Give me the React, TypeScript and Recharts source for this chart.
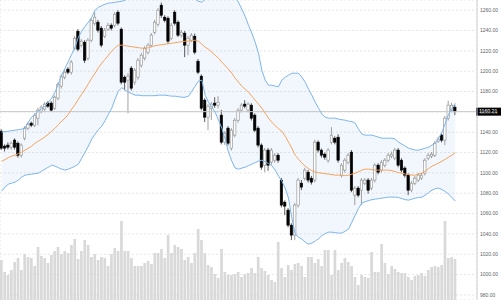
import React from "react";
import {
  ComposedChart,
  Bar,
  Line,
  Area,
  XAxis,
  YAxis,
  CartesianGrid,
  ReferenceLine,
} from "recharts";

// OHLC, one entry per trading day
const OPENS = [
  1141.0, 1126.3, 1127.3, 1125.3, 1132.2, 1129.2, 1117.4, 1134.1, 1144.0, 1148.9,
  1146.9, 1153.8, 1160.7, 1162.7, 1168.6, 1168.6, 1163.6, 1173.5, 1185.3, 1194.1,
  1202.0, 1199.0, 1222.6, 1239.3, 1225.6, 1228.5, 1212.8, 1230.5, 1247.2, 1248.2,
  1242.3, 1234.4, 1241.3, 1245.2, 1245.2, 1258.0, 1241.3, 1194.1, 1191.2, 1203.0,
  1189.2, 1194.1, 1205.9, 1212.8, 1218.7, 1225.6, 1238.3, 1246.2, 1264.9, 1253.1,
  1252.1, 1232.4, 1258.0, 1248.2, 1235.4, 1237.4, 1225.6, 1230.5, 1234.4, 1209.8,
  1195.1, 1171.5, 1154.8, 1163.6, 1168.6, 1166.6, 1156.8, 1130.2, 1144.0, 1124.3,
  1137.1, 1151.8, 1161.7, 1167.6, 1161.7, 1166.6, 1156.8, 1144.0, 1127.3, 1107.6,
  1122.4, 1110.6, 1112.5, 1117.4, 1092.9, 1071.2, 1063.4, 1048.6, 1038.8, 1068.3,
  1089.9, 1094.8, 1100.7, 1094.8, 1092.9, 1130.2, 1122.4, 1118.4, 1112.5, 1130.2,
  1134.1, 1135.1, 1097.8, 1102.7, 1110.6, 1120.4, 1078.1, 1085.0, 1083.0, 1089.9,
  1092.9, 1085.0, 1092.9, 1107.6, 1102.7, 1107.6, 1112.5, 1116.4, 1114.5, 1122.4,
  1112.5, 1104.7, 1097.8, 1083.0, 1089.9, 1092.9, 1094.8, 1099.7, 1114.5, 1116.4,
  1117.4, 1131.2, 1137.1, 1132.2, 1153.8, 1161.7, 1164.6,
];
const HIGHS = [
  1143.0, 1128.0, 1130.0, 1131.0, 1134.0, 1131.0, 1129.0, 1146.0, 1150.0, 1150.5,
  1158.5, 1164.0, 1166.5, 1169.5, 1170.5, 1170.5, 1176.0, 1189.0, 1197.0, 1201.0,
  1204.0, 1211.0, 1234.5, 1241.5, 1231.5, 1230.5, 1232.5, 1252.0, 1258.0, 1250.5,
  1244.5, 1242.5, 1247.5, 1247.0, 1258.0, 1260.0, 1243.0, 1196.0, 1198.0, 1205.0,
  1203.0, 1213.0, 1218.0, 1224.5, 1227.5, 1237.5, 1250.5, 1262.0, 1267.5, 1255.0,
  1254.0, 1247.5, 1260.0, 1250.0, 1240.5, 1239.5, 1234.5, 1237.5, 1237.0, 1212.0,
  1197.0, 1173.5, 1167.5, 1169.5, 1174.4, 1175.5, 1162.0, 1141.0, 1146.0, 1144.0,
  1154.0, 1163.5, 1168.5, 1171.5, 1169.5, 1168.5, 1158.5, 1146.0, 1129.0, 1124.5,
  1124.5, 1124.5, 1119.5, 1119.5, 1095.0, 1073.0, 1065.5, 1050.5, 1070.5, 1095.0,
  1093.0, 1105.0, 1103.0, 1097.0, 1132.5, 1132.0, 1124.0, 1120.0, 1124.5, 1145.0,
  1136.0, 1138.0, 1109.5, 1114.5, 1119.5, 1122.5, 1087.0, 1087.0, 1095.0, 1095.0,
  1095.0, 1095.0, 1109.5, 1109.5, 1112.5, 1114.5, 1119.5, 1121.0, 1124.5, 1124.5,
  1114.5, 1106.5, 1099.5, 1092.0, 1097.0, 1100.0, 1100.0, 1114.5, 1119.5, 1120.5,
  1131.5, 1135.5, 1139.0, 1156.0, 1171.0, 1169.0, 1167.0,
];
const LOWS = [
  1122.4, 1121.0, 1123.0, 1123.0, 1123.0, 1115.0, 1115.0, 1132.0, 1142.0, 1145.0,
  1145.0, 1146.9, 1158.5, 1161.0, 1164.0, 1160.0, 1162.0, 1171.5, 1183.0, 1192.0,
  1197.0, 1196.5, 1220.5, 1219.5, 1223.5, 1208.0, 1210.5, 1228.5, 1245.0, 1238.0,
  1223.5, 1232.5, 1239.5, 1240.0, 1243.0, 1245.0, 1187.0, 1181.3, 1158.7, 1181.0,
  1186.5, 1191.5, 1203.5, 1210.5, 1216.5, 1223.5, 1236.0, 1244.0, 1252.5, 1248.0,
  1227.0, 1230.5, 1245.0, 1233.5, 1233.0, 1213.8, 1215.7, 1228.5, 1216.5, 1197.0,
  1161.5, 1150.0, 1142.0, 1152.0, 1164.0, 1163.5, 1128.0, 1127.5, 1127.0, 1122.0,
  1135.0, 1149.5, 1159.5, 1163.5, 1159.5, 1151.5, 1140.0, 1125.0, 1103.0, 1100.7,
  1102.0, 1108.0, 1110.0, 1110.0, 1066.0, 1058.5, 1046.5, 1033.9, 1033.9, 1066.0,
  1083.0, 1092.5, 1090.5, 1088.5, 1090.5, 1120.0, 1115.0, 1113.0, 1110.0, 1128.0,
  1128.0, 1110.0, 1095.5, 1100.5, 1108.5, 1081.0, 1068.3, 1076.0, 1068.3, 1088.0,
  1079.5, 1083.0, 1090.5, 1098.5, 1100.5, 1105.5, 1110.5, 1114.5, 1112.5, 1105.5,
  1100.5, 1095.5, 1078.1, 1081.0, 1088.0, 1091.0, 1093.0, 1097.5, 1112.5, 1114.5,
  1115.5, 1129.5, 1130.0, 1127.3, 1151.5, 1159.5, 1156.8,
];
const CLOSES = [
  1124.3, 1124.3, 1125.3, 1129.2, 1125.3, 1117.4, 1127.3, 1144.0, 1147.9, 1146.9,
  1156.8, 1161.7, 1164.6, 1167.6, 1165.6, 1161.7, 1174.5, 1187.2, 1195.1, 1199.0,
  1199.0, 1208.9, 1232.4, 1221.6, 1229.5, 1210.8, 1230.5, 1250.1, 1253.1, 1240.3,
  1225.6, 1240.3, 1245.2, 1242.3, 1256.0, 1247.2, 1189.2, 1189.2, 1195.1, 1183.3,
  1201.0, 1210.8, 1215.7, 1222.6, 1225.6, 1235.4, 1248.2, 1260.0, 1255.0, 1250.1,
  1229.5, 1245.2, 1247.2, 1235.4, 1238.3, 1225.6, 1232.4, 1235.4, 1218.7, 1199.0,
  1163.6, 1154.8, 1165.6, 1167.6, 1166.6, 1169.5, 1130.2, 1139.0, 1129.2, 1142.0,
  1151.8, 1161.7, 1166.6, 1165.6, 1167.6, 1153.8, 1142.0, 1127.3, 1105.6, 1122.4,
  1107.6, 1122.4, 1117.4, 1112.5, 1068.3, 1067.3, 1048.6, 1038.8, 1068.3, 1092.9,
  1086.0, 1102.7, 1092.9, 1090.9, 1130.2, 1122.4, 1117.4, 1115.5, 1122.4, 1137.1,
  1130.2, 1112.5, 1107.6, 1112.5, 1117.4, 1083.0, 1085.0, 1078.1, 1092.9, 1092.9,
  1083.0, 1092.9, 1107.6, 1100.7, 1110.6, 1112.5, 1117.4, 1118.4, 1122.4, 1107.6,
  1102.7, 1097.8, 1083.0, 1089.9, 1094.8, 1097.8, 1097.8, 1112.5, 1117.4, 1118.4,
  1129.2, 1133.2, 1132.2, 1153.8, 1166.6, 1166.6, 1160.21,
];

// volume in thousands
const VOLUMES = [
  400, 280, 250, 300, 380, 420, 300, 460, 430, 420,
  340, 530, 440, 420, 370, 450, 490, 530, 460, 490,
  470, 550, 610, 410, 490, 600, 550, 430, 460, 400,
  430, 420, 340, 460, 520, 490, 790, 490, 490, 420,
  340, 340, 340, 370, 390, 360, 470, 470, 510, 420,
  650, 470, 550, 530, 510, 400, 430, 370, 470, 710,
  600, 470, 350, 330, 260, 220, 510, 280, 250, 250,
  260, 280, 230, 260, 270, 320, 270, 430, 320, 290,
  250, 200, 180, 580, 320, 230, 350, 300, 360, 370,
  340, 230, 430, 430, 370, 410, 340, 500, 500, 250,
  500, 300, 370, 420, 380, 340, 230, 150, 250, 230,
  220, 480, 280, 280, 560, 370, 260, 340, 310, 280,
  270, 270, 230, 200, 240, 250, 270, 240, 300, 330,
  340, 330, 350, 790, 420, 430, 410,
];

// Bollinger bands (20, 2)
const BB_UPPER = [
  1140.0, 1140.5, 1141.0, 1141.5, 1142.0, 1142.5, 1143.0, 1144.0, 1149.9, 1154.8,
  1157.7, 1160.7, 1163.1, 1165.6, 1169.5, 1173.5, 1179.4, 1187.2, 1196.1, 1203.0,
  1209.8, 1216.7, 1223.6, 1233.4, 1239.3, 1244.2, 1248.2, 1253.1, 1260.0, 1262.9,
  1264.4, 1265.9, 1266.9, 1267.3, 1267.8, 1268.3, 1268.8, 1269.8, 1271.8, 1273.7,
  1275.0, 1276.0, 1277.0, 1278.0, 1279.0, 1280.0, 1281.0, 1283.0, 1285.0, 1285.0,
  1284.0, 1283.0, 1282.0, 1281.0, 1279.0, 1277.0, 1275.0, 1272.0, 1270.8, 1268.8,
  1267.8, 1270.8, 1273.0, 1275.0, 1277.0, 1278.0, 1279.0, 1279.0, 1278.0, 1276.0,
  1273.0, 1267.8, 1261.0, 1254.0, 1245.2, 1237.4, 1228.5, 1217.7, 1201.0, 1191.2,
  1186.2, 1186.2, 1185.3, 1184.8, 1191.2, 1194.1, 1196.1, 1198.0, 1198.0, 1198.0,
  1194.1, 1189.2, 1182.3, 1176.4, 1169.5, 1163.6, 1157.7, 1154.8, 1153.8, 1153.8,
  1153.8, 1152.8, 1152.3, 1151.8, 1150.9, 1150.4, 1148.9, 1143.0, 1138.1, 1137.1,
  1137.1, 1137.1, 1136.1, 1135.1, 1134.1, 1134.1, 1134.1, 1134.1, 1133.2, 1130.2,
  1128.2, 1126.3, 1124.3, 1123.3, 1122.4, 1122.4, 1123.3, 1124.3, 1125.3, 1127.3,
  1129.2, 1134.1, 1140.0, 1148.9, 1157.7, 1163.6, 1168.5,
];
const BB_MIDDLE = [
  1111.5, 1113.0, 1115.0, 1116.5, 1117.4, 1118.9, 1120.4, 1122.4, 1124.3, 1126.3,
  1129.2, 1131.2, 1133.2, 1135.6, 1138.1, 1141.0, 1144.0, 1147.4, 1150.9, 1153.8,
  1157.7, 1162.7, 1167.1, 1172.5, 1177.4, 1182.3, 1187.7, 1193.1, 1198.0, 1203.4,
  1207.9, 1211.8, 1215.7, 1219.7, 1223.1, 1225.6, 1225.6, 1225.1, 1224.6, 1224.1,
  1223.6, 1223.1, 1222.6, 1222.6, 1223.1, 1224.1, 1225.1, 1225.6, 1226.1, 1226.6,
  1227.0, 1227.5, 1228.0, 1228.5, 1229.0, 1229.5, 1229.5, 1230.0, 1230.5, 1229.5,
  1226.6, 1223.6, 1221.6, 1218.7, 1215.7, 1212.8, 1208.9, 1205.4, 1202.0, 1198.0,
  1193.1, 1189.2, 1185.3, 1182.3, 1179.4, 1175.4, 1171.5, 1167.6, 1163.6, 1158.7,
  1153.8, 1149.9, 1146.4, 1143.5, 1141.0, 1136.1, 1130.2, 1124.3, 1117.4, 1113.5,
  1109.6, 1106.6, 1104.2, 1102.2, 1100.7, 1100.2, 1099.7, 1099.2, 1098.8, 1098.3,
  1097.8, 1097.8, 1097.3, 1097.3, 1097.8, 1098.8, 1099.7, 1101.2, 1102.7, 1103.7,
  1103.7, 1103.2, 1102.7, 1102.7, 1102.7, 1102.7, 1102.7, 1102.2, 1101.2, 1100.2,
  1099.7, 1098.8, 1098.3, 1097.8, 1097.8, 1098.8, 1099.7, 1101.7, 1104.2, 1106.6,
  1108.1, 1109.6, 1111.5, 1113.5, 1115.5, 1117.4, 1119.9,
];
const BB_LOWER = [
  1082.0, 1086.0, 1088.9, 1089.9, 1090.9, 1092.9, 1095.8, 1097.8, 1098.3, 1098.8,
  1099.2, 1099.7, 1101.7, 1103.7, 1105.6, 1107.6, 1106.6, 1105.1, 1103.7, 1102.7,
  1103.7, 1105.1, 1106.6, 1108.6, 1114.5, 1120.4, 1126.3, 1133.2, 1138.1, 1142.5,
  1146.0, 1151.3, 1157.7, 1163.6, 1172.5, 1180.4, 1183.8, 1181.3, 1179.4, 1177.9,
  1176.4, 1176.4, 1175.9, 1175.9, 1175.9, 1175.9, 1175.9, 1176.4, 1176.4, 1176.4,
  1175.9, 1175.4, 1175.4, 1174.9, 1174.4, 1174.4, 1175.4, 1180.3, 1185.3, 1190.2,
  1191.2, 1176.4, 1169.5, 1164.6, 1159.7, 1151.8, 1144.0, 1133.2, 1120.4, 1111.5,
  1104.7, 1103.7, 1104.7, 1105.6, 1107.1, 1108.6, 1110.1, 1111.5, 1112.5, 1111.0,
  1109.1, 1107.1, 1102.7, 1096.8, 1091.9, 1085.0, 1075.2, 1055.5, 1039.8, 1036.8,
  1034.9, 1031.9, 1029.9, 1030.9, 1032.9, 1035.3, 1038.3, 1040.3, 1041.7, 1041.7,
  1041.2, 1040.8, 1040.8, 1042.7, 1044.7, 1051.6, 1058.5, 1065.3, 1070.3, 1071.7,
  1072.7, 1073.7, 1074.2, 1074.7, 1075.2, 1075.7, 1076.2, 1076.2, 1076.2, 1075.7,
  1074.7, 1073.7, 1073.2, 1074.2, 1075.2, 1075.7, 1076.2, 1078.1, 1080.6, 1083.0,
  1084.5, 1085.0, 1083.5, 1081.6, 1079.1, 1075.7, 1072.2,
];

const PRICE_TICKS = [980, 1000, 1020, 1040, 1060, 1080, 1100, 1120, 1140, 1160, 1180, 1200, 1220, 1240, 1260];
// days where the time axis draws a grid line
const DAY_TICKS = [24, 35, 66, 77, 88, 99, 110, 121, 132];
const LAST_PRICE = 1160.21;
const EMPTY_DAYS = 6; // blank space after the last candle

const rows = Array.from({ length: CLOSES.length + EMPTY_DAYS }, (_, i) =>
  i < CLOSES.length
    ? {
        i,
        o: OPENS[i],
        h: HIGHS[i],
        l: LOWS[i],
        c: CLOSES[i],
        vol: VOLUMES[i],
        upper: BB_UPPER[i],
        middle: BB_MIDDLE[i],
        lower: BB_LOWER[i],
      }
    : { i }
);

const FONT = "'Liberation Sans', Arial, sans-serif";

function Candle(props: any) {
  const { x, y, width, height, payload } = props;
  if (!payload || payload.o == null || !(height > 0)) return null;
  const { o, h, l, c } = payload;
  const k = height / (h - l);
  const py = (v: number) => y + (h - v) * k;
  const up = c >= o;
  const top = py(Math.max(o, c));
  const bottom = py(Math.min(o, c));
  const cx = x + width / 2;
  return (
    <g>
      <line x1={cx} x2={cx} y1={y} y2={y + height} stroke={up ? "#8a8a8a" : "#333"} strokeWidth={0.8} />
      <rect
        x={x}
        y={top}
        width={width}
        height={Math.max(bottom - top, 0.8)}
        fill={up ? "#fff" : "#000"}
        stroke={up ? "#8a8a8a" : "#000"}
        strokeWidth={0.6}
      />
    </g>
  );
}

function PriceTag({ viewBox }: any) {
  if (!viewBox) return null;
  const x = viewBox.x + viewBox.width;
  return (
    <g>
      <rect x={x - 1} y={viewBox.y - 4} width={26} height={8} fill="#000" />
      <text x={x + 2} y={viewBox.y} dy="0.35em" fill="#fff" fontSize={5.2} fontFamily={FONT}>
        {LAST_PRICE.toFixed(2)}
      </text>
    </g>
  );
}

export default function App() {
  return (
    <div style={{ position: "absolute", left: 0, top: 0, background: "#fff" }}>
      <ComposedChart width={501} height={300} data={rows} margin={{ top: 0, right: 0, bottom: 0, left: 0 }}>
        <XAxis
          xAxisId="main"
          dataKey="i"
          type="category"
          ticks={DAY_TICKS}
          height={0}
          tick={false}
          tickLine={false}
          axisLine={false}
        />
        <XAxis xAxisId="vol" dataKey="i" type="category" hide />
        <YAxis
          yAxisId="price"
          orientation="right"
          width={24}
          domain={[975, 1270]}
          allowDataOverflow
          ticks={PRICE_TICKS}
          interval={0}
          tickFormatter={(v: number) => v.toFixed(2)}
          tick={{ fontSize: 5, fill: "#666", fontFamily: FONT }}
          tickLine={false}
          tickSize={0}
          tickMargin={3}
          axisLine={{ stroke: "#cfcfcf" }}
        />
        <YAxis yAxisId="vol" domain={[0, 3000]} hide />
        <CartesianGrid
          xAxisId="main"
          yAxisId="price"
          stroke="#e6e6e6"
          strokeDasharray="2 2"
        />
        <Bar
          xAxisId="vol"
          yAxisId="vol"
          dataKey="vol"
          fill="#d9d9d9"
          barSize={2.7}
          activeBar={false}
          isAnimationActive={false}
        />
        <Area
          xAxisId="main"
          yAxisId="price"
          dataKey={(d: any) => (d.upper == null ? null : [d.lower, d.upper])}
          stroke="none"
          fill="#7cb5ec"
          fillOpacity={0.1}
          dot={false}
          activeDot={false}
          isAnimationActive={false}
        />
        <ReferenceLine
          xAxisId="main"
          yAxisId="price"
          y={LAST_PRICE}
          stroke="#c8c8c8"
          strokeWidth={1}
          label={<PriceTag />}
        />
        <Line
          xAxisId="main"
          yAxisId="price"
          dataKey="upper"
          stroke="#7cb5ec"
          strokeWidth={1}
          dot={false}
          activeDot={false}
          isAnimationActive={false}
        />
        <Line
          xAxisId="main"
          yAxisId="price"
          dataKey="lower"
          stroke="#7cb5ec"
          strokeWidth={1}
          dot={false}
          activeDot={false}
          isAnimationActive={false}
        />
        <Line
          xAxisId="main"
          yAxisId="price"
          dataKey="middle"
          stroke="#f7a35c"
          strokeWidth={1}
          dot={false}
          activeDot={false}
          isAnimationActive={false}
        />
        <Bar
          xAxisId="main"
          yAxisId="price"
          dataKey={(d: any) => (d.o == null ? null : [d.l, d.h])}
          barSize={2.4}
          shape={<Candle />}
          activeBar={false}
          isAnimationActive={false}
        />
      </ComposedChart>
    </div>
  );
}
